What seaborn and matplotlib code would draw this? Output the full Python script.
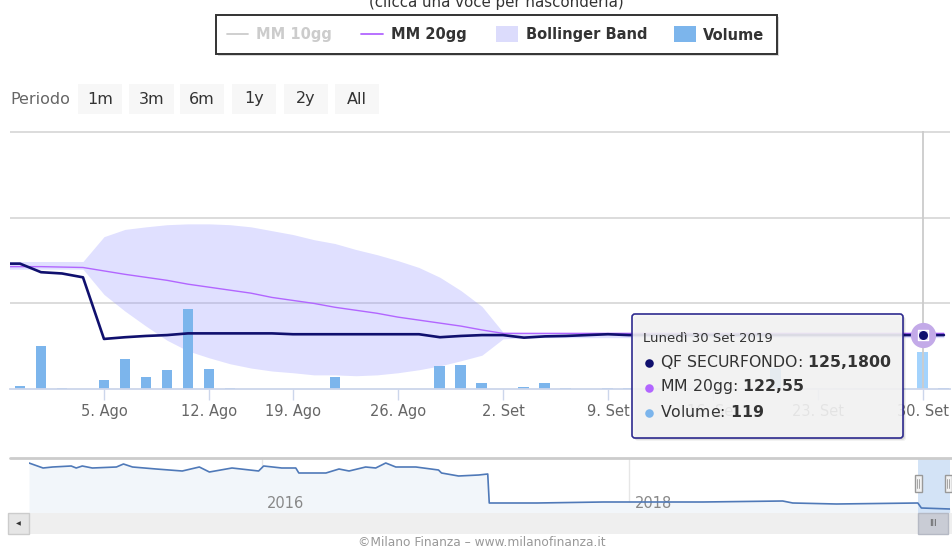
import numpy as np
import pandas as pd
import matplotlib.pyplot as plt
import matplotlib.dates as mdates
from matplotlib.patches import Rectangle, FancyBboxPatch
import seaborn as sns

## Set up environment
sns.set_theme(style="white")
plt.rcParams['font.family'] = ['DejaVu Sans']
plt.rcParams['mathtext.fontset'] = 'dejavusans'

NAVY, PURPLE, BAND, VOL, VOL_HOVER = "#10106e", "#b266ff", "#9999ff", "#7cb5ec", "#a3d3fd"
GRID, AXIS, LABEL = "#d9d9d9", "#ccd6eb", "#666666"

# trading days in the main window (15 Aug is a holiday)
days = pd.bdate_range("2019-07-29", "2019-10-01")
days = days[days != pd.Timestamp("2019-08-15")]
pos = np.arange(len(days))

price = [126.85, 126.85, 126.65, 126.62, 126.53, 125.09, 125.13, 125.16, 125.18, 125.22,
         125.22, 125.22, 125.22, 125.22, 125.20, 125.20, 125.20, 125.20, 125.20, 125.20,
         125.20, 125.13, 125.16, 125.18, 125.18, 125.12, 125.15, 125.16, 125.18, 125.20,
         125.18, 125.18, 125.18, 125.18, 125.18, 125.18, 125.18, 125.18, 125.18, 125.18,
         125.18, 125.18, 125.18, 125.18, 125.18, 125.18]
mm20 = [126.78, 126.78, 126.78, 126.77, 126.76, 126.68, 126.60, 126.53, 126.46, 126.37,
        126.30, 126.23, 126.16, 126.06, 125.99, 125.92, 125.83, 125.76, 125.69, 125.60,
        125.53, 125.46, 125.39, 125.30, 125.22, 125.22, 125.22, 125.22, 125.22, 125.22,
        125.22, 125.22, 125.22, 125.22, 125.22, 125.22, 125.22, 125.22, 125.22, 125.22,
        125.22, 125.22, 125.22, 125.22, 125.22, 125.22]
band_up = [126.90, 126.90, 126.90, 126.90, 126.90, 127.48, 127.65, 127.71, 127.76, 127.78,
           127.78, 127.76, 127.71, 127.62, 127.53, 127.41, 127.32, 127.18, 127.06, 126.92,
           126.76, 126.53, 126.22, 125.85, 125.25, 125.24, 125.24, 125.24, 125.24, 125.24,
           125.24, 125.24, 125.24, 125.24, 125.24, 125.24, 125.24, 125.24, 125.24, 125.24,
           125.24, 125.24, 125.24, 125.24, 125.24, 125.24]
band_lo = [126.72, 126.72, 126.72, 126.72, 126.72, 126.13, 125.74, 125.39, 125.06, 124.81,
           124.65, 124.51, 124.41, 124.34, 124.30, 124.25, 124.25, 124.23, 124.25, 124.30,
           124.37, 124.46, 124.58, 124.71, 125.09, 125.12, 125.12, 125.12, 125.12, 125.12,
           125.12, 125.12, 125.12, 125.12, 125.12, 125.12, 125.12, 125.12, 125.12, 125.12,
           125.12, 125.12, 125.12, 125.12, 125.12, 125.12]
volume = [0, 10, 138, 3, 0, 29, 97, 39, 61, 257,
          64, 3, 0, 0, 0, 0, 39, 0, 0, 0,
          0, 74, 77, 19, 0, 6, 19, 3, 0, 3,
          3, 3, 3, 3, 0, 0, 0, 68, 0, 3,
          3, 3, 0, 0, 119, 3]

tick_days = ["2019-08-05", "2019-08-12", "2019-08-19", "2019-08-26", "2019-09-02",
             "2019-09-09", "2019-09-16", "2019-09-23", "2019-09-30"]
tick_labels = ["5. Ago", "12. Ago", "19. Ago", "26. Ago", "2. Set",
               "9. Set", "16. Set", "23. Set", "30. Set"]
hover_day = "2019-09-30"

# navigator series (whole history)
nav_dates = ["2014-09-24", "2014-10-22", "2014-11-10", "2014-12-17", "2014-12-27", "2015-01-08",
             "2015-01-28", "2015-03-17", "2015-03-31", "2015-04-18", "2015-06-04", "2015-07-26",
             "2015-08-29", "2015-09-18", "2015-11-02", "2015-12-25", "2016-01-04", "2016-02-09",
             "2016-03-08", "2016-03-14", "2016-05-07", "2016-06-02", "2016-06-22", "2016-07-25",
             "2016-08-14", "2016-09-03", "2016-09-23", "2016-11-02", "2016-12-17", "2016-12-23",
             "2017-01-26", "2017-03-07", "2017-03-25", "2017-03-28", "2017-07-01", "2017-11-10",
             "2018-01-01", "2018-05-27", "2018-11-02", "2018-11-22", "2019-02-17", "2019-07-29",
             "2019-08-05", "2019-10-01"]
nav_vals = [140.95, 139.20, 139.55, 139.90, 139.20, 139.90, 139.20, 139.55, 140.60, 139.55,
            138.85, 138.15, 139.55, 137.80, 139.20, 138.15, 139.90, 139.20, 139.20, 137.45,
            137.45, 138.85, 138.15, 139.55, 139.20, 140.95, 139.55, 139.55, 138.50, 137.45,
            136.40, 136.75, 137.10, 126.95, 126.95, 127.30, 127.30, 127.30, 127.65, 126.95,
            126.60, 126.95, 125.20, 124.85]
nav_years = ["2016", "2018"]

W, H = 952, 550
def box(x0, y0, x1, y1):
    return [x0 / W, 1 - y1 / H, (x1 - x0) / W, (y1 - y0) / H]

fig = plt.figure(figsize=(W / 100, H / 100), dpi=100)

## Main chart: band (back), volume, lines (front)
ax_band = fig.add_axes(box(10, 131, 950, 389), zorder=1)
ax_vol = fig.add_axes(box(10, 131, 950, 389), zorder=2, sharex=ax_band)
ax_line = fig.add_axes(box(10, 131, 950, 389), zorder=3, sharex=ax_band)
for a in (ax_vol, ax_line):
    a.patch.set_visible(False)

ax_band.fill_between(pos, band_lo, band_up, color=BAND, alpha=0.3, lw=0)
ax_band.set_ylim(123.92, 129.95)
ax_band.set_yticks([125.92, 127.92, 129.92])
ax_band.grid(axis="y", color=GRID, lw=1.3)
ax_band.set_xlim(0.524, 45.29)

hover = days.get_loc(pd.Timestamp(hover_day))
bar_colors = [VOL] * len(pos)
bar_colors[hover] = VOL_HOVER
ax_vol.bar(pos, volume, width=0.52, color=bar_colors, lw=0)
ax_vol.set_ylim(0, 830)

sns.lineplot(x=pos, y=mm20, ax=ax_line, color=PURPLE, linewidth=1.0)
sns.lineplot(x=pos, y=price, ax=ax_line, color=NAVY, linewidth=1.9)
ax_line.axvline(hover, color="#cccccc", lw=1.3, zorder=0)
ax_line.scatter([hover], [price[hover]], s=330, color="#c3aae8", lw=0, zorder=4)
ax_line.scatter([hover], [price[hover]], s=60, marker="s", color="#dcd0f4", edgecolor="white", lw=1, zorder=5)
ax_line.scatter([hover], [price[hover]], s=42, color=NAVY, lw=0, zorder=6)
ax_line.set_ylim(123.92, 129.95)
ax_line.set_yticks([])
ax_line.set_xticks([days.get_loc(pd.Timestamp(d)) for d in tick_days])
ax_line.set_xticklabels(tick_labels)
ax_line.tick_params(axis="x", length=8, width=1, color=AXIS, labelcolor=LABEL,
                    labelsize=10.5, pad=3, bottom=True)
ax_line.set_xlabel("")
ax_line.set_ylabel("")

for a in (ax_band, ax_vol, ax_line):
    for s in a.spines.values():
        s.set_visible(False)
    a.tick_params(left=False, labelleft=False)
for a in (ax_band, ax_vol):
    a.tick_params(bottom=False, labelbottom=False)
ax_line.spines["bottom"].set_visible(True)
ax_line.spines["bottom"].set_color(AXIS)
ax_line.spines["bottom"].set_linewidth(1.3)

## Navigator
nav_x = pd.to_datetime(nav_dates)
ax_nav = fig.add_axes(box(29, 458, 950, 513), zorder=1)
ax_nav.set_ylim(123.45, 142.7)
ax_nav.set_xlim(nav_x[0], nav_x[-1])
ax_nav.fill_between(nav_x, nav_vals, 123.45, color="#f2f6fa", lw=0)
ax_nav.axvspan(pd.Timestamp("2019-07-29"), nav_x[-1], color="#d3e3f6", lw=0)
sns.lineplot(x=nav_x, y=nav_vals, ax=ax_nav, color="#4f79b8", linewidth=1.2)
for yr in nav_years:
    d = pd.Timestamp(yr + "-01-01")
    ax_nav.axvline(d, color="#e6e6e6", lw=1, zorder=0)
    ax_nav.annotate(yr, xy=(mdates.date2num(d), 0), xycoords=("data", "axes fraction"),
                    xytext=(5, 10), textcoords="offset pixels", ha="left", va="center",
                    fontsize=10.5, color="#888888", zorder=1)
ax_nav.set_axis_off()

## Overlay: legend, range selector, tooltip, scrollbar, credits
ov = fig.add_axes([0, 0, 1, 1], zorder=10)
ov.set_xlim(0, W)
ov.set_ylim(H, 0)
ov.axis("off")

# subtitle, cut by the top edge as in the page capture
ov.text(496, 6.5, "(clicca una voce per nasconderla)", ha="center", va="baseline",
        fontsize=10.8, color="#333333")

# legend box
ov.add_patch(Rectangle((217.5, 16.5), 561, 39, fc="black", alpha=0.15, lw=0))
ov.add_patch(Rectangle((216, 15), 561, 39, fc="white", ec="#333333", lw=1.4))
ov.plot([227, 248], [34, 34], color="#cccccc", lw=1.3)
ov.text(256, 35, "MM 10gg", fontsize=10.5, fontweight="bold", color="#cccccc", va="center")
ov.plot([361, 383], [34, 34], color=PURPLE, lw=1.3)
ov.text(391, 35, "MM 20gg", fontsize=10.5, fontweight="bold", color="#333333", va="center")
ov.add_patch(Rectangle((496, 26), 22, 16, fc="#dcdcfc", lw=0))
ov.text(526, 35, "Bollinger Band", fontsize=10.5, fontweight="bold", color="#333333", va="center")
ov.add_patch(Rectangle((674, 26), 22, 16, fc=VOL, lw=0))
ov.text(703, 35, "Volume", fontsize=10.5, fontweight="bold", color="#333333", va="center")

# range selector
ov.text(10, 99, "Periodo", fontsize=11.5, color=LABEL, va="center")
btn_labels = ["1m", "3m", "6m", "1y", "2y", "All"]
btn_x = [(78, 122), (129, 174), (180, 224), (232, 276), (284, 328), (335, 379)]
for lab, (x0, x1) in zip(btn_labels, btn_x):
    ov.add_patch(Rectangle((x0, 84), x1 - x0, 30, fc="#f7f7f7", lw=0))
    ov.text((x0 + x1) / 2, 99, lab, fontsize=11.5, color="#333333", ha="center", va="center")

# tooltip
for k, a in [(3, 0.05), (2, 0.08), (1, 0.1)]:
    ov.add_patch(FancyBboxPatch((632 + k, 314 + k), 271, 124, boxstyle="round,pad=0,rounding_size=3",
                                fc="black", alpha=a, lw=0))
ov.add_patch(FancyBboxPatch((632, 314), 271, 124, boxstyle="round,pad=0,rounding_size=3",
                            fc=(0.976, 0.976, 0.976, 0.88), ec="#2f2b8f", lw=1.2))
ov.text(643, 338, "Lunedì 30 Set 2019", fontsize=9.5, color="#333333", va="center")
rows = [(NAVY, "QF SECURFONDO: $\\mathbf{125{,}1800}$", 362),
        (PURPLE, "MM 20gg: $\\mathbf{122{,}55}$", 387),
        (VOL, "Volume: $\\mathbf{119}$", 412)]
for col, txt, y in rows:
    ov.scatter([649], [y + 1], s=38, color=col, lw=0)
    ov.text(660, y, txt, fontsize=11.3, color="#333333", va="center")

# navigator frame, handles, scrollbar
ov.plot([10, 952], [458, 458], color="#cccccc", lw=2)
for hx in (918, 948):
    ov.add_patch(Rectangle((hx - 3.5, 475), 7, 17, fc="#f2f2f2", ec="#999999", lw=1))
    ov.plot([hx - 0.8, hx - 0.8], [479, 488], color="#999999", lw=0.6)
    ov.plot([hx + 0.8, hx + 0.8], [479, 488], color="#999999", lw=0.6)
ov.add_patch(Rectangle((29, 513), 923, 21, fc="#efefef", lw=0))
ov.add_patch(Rectangle((8, 513), 21, 21, fc="#e6e6e6", ec="#cccccc", lw=1))
ov.text(18.5, 523.5, "◀", fontsize=4.5, color="#333333", ha="center", va="center")
ov.add_patch(Rectangle((918, 513), 30, 21, fc="#c9ccd5", ec="#b5b9c4", lw=1))
ov.text(933, 523.5, "III", fontsize=6, color="#555555", ha="center", va="center")

ov.text(482, 543, "©Milano Finanza – www.milanofinanza.it", fontsize=8.8, color="#999999",
        ha="center", va="center")

plt.savefig("out.png", dpi=100)
plt.close()
